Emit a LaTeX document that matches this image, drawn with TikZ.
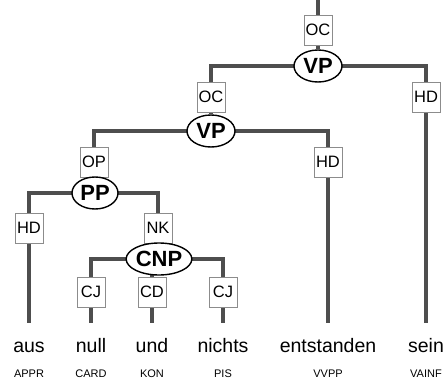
\documentclass[tikz,border=0pt]{standalone}
\usepackage{fontspec}
\setmainfont{Liberation Sans}
\usetikzlibrary{shapes.geometric}
\pgfdeclarelayer{background}
\pgfsetlayers{background,main}
\definecolor{edgegray}{RGB}{78,78,78}
\definecolor{boxgray}{RGB}{140,140,140}
\tikzset{
  edge/.style={draw=edgegray, line width=3.2pt},
  label box/.style={draw=boxgray, fill=white, line width=0.9pt, inner sep=0pt,
    minimum width=28pt, minimum height=30pt, text height=12pt, text depth=1pt,
    font=\fontsize{16.5}{18}\selectfont},
  cat/.style={ellipse, draw=black, fill=white, line width=1.4pt, inner sep=0pt,
    minimum height=32pt, font=\fontsize{22}{24}\selectfont\bfseries},
  word/.style={anchor=north, inner xsep=1pt, inner ysep=15pt, text height=14pt,
    text depth=4pt, font=\fontsize{19.5}{22}\selectfont},
  tag/.style={anchor=base, inner sep=0pt, font=\fontsize{11}{13}\selectfont},
}
\begin{document}
\begin{tikzpicture}[x=1pt,y=-1pt]
  \useasboundingbox (0,0) rectangle (445,380);

  % phrase nodes and edge labels
  \coordinate (root) at (318,0);
  \node[label box] (oc1) at (318,30) {OC};
  \node[cat, minimum width=48pt] (vp1) at (318,66) {VP};
  \node[label box] (oc2) at (211,97) {OC};
  \node[label box] (hd1) at (426,97) {HD};
  \node[cat, minimum width=48pt] (vp2) at (211,131) {VP};
  \node[label box] (op) at (94,162) {OP};
  \node[label box] (hd2) at (328,162) {HD};
  \node[cat, minimum width=46pt] (pp) at (95,193) {PP};
  \node[label box] (hd3) at (29,228) {HD};
  \node[label box] (nk) at (158,228) {NK};
  \node[cat, minimum width=65pt] (cnp) at (159,259) {CNP};
  \node[label box] (cj1) at (91,292) {CJ};
  \node[label box] (cd) at (152,292) {CD};
  \node[label box] (cj2) at (223,292) {CJ};

  % terminal words
  \node[word] (w1) at (29,323) {aus};
  \node[word] (w2) at (91,323) {null};
  \node[word] (w3) at (152,323) {und};
  \node[word] (w4) at (223,323) {nichts};
  \node[word] (w5) at (328,323) {entstanden};
  \node[word] (w6) at (426,323) {sein};

  % part-of-speech tags
  \node[tag] (t1) at (29,377) {APPR};
  \node[tag] (t2) at (91,377) {CARD};
  \node[tag] (t3) at (152,377) {KON};
  \node[tag] (t4) at (223,377) {PIS};
  \node[tag] (t5) at (328,377) {VVPP};
  \node[tag] (t6) at (426,377) {VAINF};

  % tree edges behind the nodes
  \begin{pgfonlayer}{background}
    \draw[edge] (root) -- (oc1);
    \draw[edge] (oc1) -- (vp1);
    \draw[edge] (vp1.center) -| (oc2.north);
    \draw[edge] (vp1.center) -| (hd1.north);
    \draw[edge] (hd1.south) -- (w6.north);
    \draw[edge] (oc2) -- (vp2);
    \draw[edge] (vp2.center) -| (op.north);
    \draw[edge] (vp2.center) -| (hd2.north);
    \draw[edge] (hd2.south) -- (w5.north);
    \draw[edge] (op) -- (pp);
    \draw[edge] (pp.center) -| (hd3.north);
    \draw[edge] (pp.center) -| (nk.north);
    \draw[edge] (hd3.south) -- (w1.north);
    \draw[edge] (nk) -- (cnp);
    \draw[edge] (cnp.center) -| (cj1.north);
    \draw[edge] (cnp.center -| cd.north) -- (cd.north);
    \draw[edge] (cnp.center) -| (cj2.north);
    \draw[edge] (cj1.south) -- (w2.north);
    \draw[edge] (cd.south) -- (w3.north);
    \draw[edge] (cj2.south) -- (w4.north);
  \end{pgfonlayer}
\end{tikzpicture}
\end{document}
